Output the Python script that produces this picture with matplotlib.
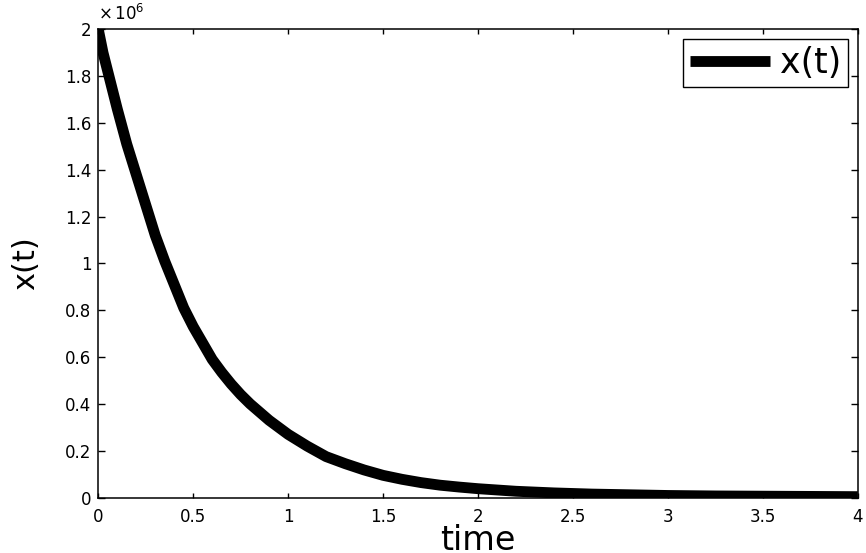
import numpy as np
import matplotlib
matplotlib.use('Agg')
import matplotlib.pyplot as plt
from matplotlib.ticker import FuncFormatter

# values
t = [0.0, 0.025, 0.05, 0.075, 0.1, 0.15, 0.2, 0.25, 0.3, 0.35, 0.4, 0.45, 0.5,
     0.55, 0.6, 0.65, 0.7, 0.75, 0.8, 0.85, 0.9, 0.95, 1.0, 1.1, 1.2, 1.3, 1.4,
     1.5, 1.6, 1.7, 1.8, 1.9, 2.0, 2.2, 2.4, 2.6, 2.8, 3.0, 3.25, 3.5, 3.75, 4.0]
x = [2.0e6, 1.90e6, 1.82e6, 1.74e6, 1.66e6, 1.51e6, 1.38e6, 1.25e6, 1.12e6, 1.01e6,
     0.91e6, 0.81e6, 0.73e6, 0.66e6, 0.59e6, 0.535e6, 0.485e6, 0.44e6, 0.40e6,
     0.365e6, 0.33e6, 0.30e6, 0.27e6, 0.22e6, 0.175e6, 0.145e6, 0.118e6, 0.095e6,
     0.078e6, 0.064e6, 0.053e6, 0.045e6, 0.038e6, 0.027e6, 0.020e6, 0.015e6,
     0.012e6, 0.009e6, 0.007e6, 0.006e6, 0.005e6, 0.004e6]

plt.rcParams['font.family'] = ['DejaVu Sans']

fig = plt.figure(figsize=(8.66, 5.53), dpi=100)
ax = fig.add_axes([0.1135, 0.1002, 0.877, 0.8467])
ax.plot(t, x, color='black', linewidth=7.8, solid_capstyle='butt',
        solid_joinstyle='round', label='x(t)')

ax.set_xlim(0, 4)
ax.set_ylim(0, 2e6)
ax.set_xticks(np.arange(0, 4.01, 0.5))
ax.set_yticks(np.arange(0, 2.01e6, 0.2e6))
ax.xaxis.set_major_formatter(FuncFormatter(lambda v, p: '%g' % v))
ax.yaxis.set_major_formatter(FuncFormatter(lambda v, p: '%g' % round(v / 1e6, 1)))
ax.tick_params(direction='in', top=True, right=True, width=1, labelsize=12)
ax.tick_params(axis='x', length=3.5, pad=7.5)
ax.tick_params(axis='y', length=5, pad=4.8)
for s in ax.spines.values():
    s.set_linewidth(1.1)

ax.text(0.0, 1.02, r'$\times\,10^{6}$', transform=ax.transAxes, fontsize=12,
        ha='left', va='baseline')

ax.set_xlabel('time', fontsize=24)
ax.xaxis.set_label_coords(0.5, -0.057)
ax.set_ylabel('x(t)', fontsize=22)
ax.yaxis.set_label_coords(-0.076, 0.5)

leg = ax.legend(loc='upper right', fontsize=25, fancybox=False, framealpha=1,
                edgecolor='black', handlelength=2.3, borderpad=0.2,
                handletextpad=0.3, borderaxespad=0.27)
leg.get_frame().set_linewidth(1.0)

fig.savefig('out.png', dpi=100)
